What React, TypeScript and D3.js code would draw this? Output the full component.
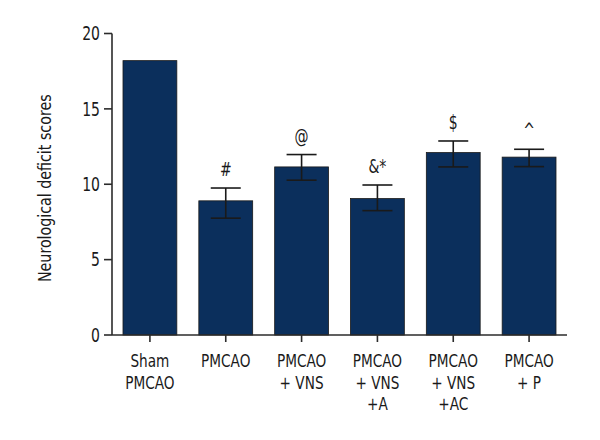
import React from "react";
import * as d3 from "d3";

const categories = [
  ["Sham", "PMCAO"],
  ["PMCAO"],
  ["PMCAO", "+ VNS"],
  ["PMCAO", "+ VNS", "+A"],
  ["PMCAO", "+ VNS", "+AC"],
  ["PMCAO", "+ P"],
];
const means = [18.2, 8.9, 11.15, 9.05, 12.1, 11.8];
const errUp = [0, 0.85, 0.82, 0.9, 0.77, 0.52];
const errDown = [0, 1.15, 0.88, 0.8, 0.95, 0.63];
const marks = ["", "#", "@", "&*", "$", "^"];
const yTicks = [0, 5, 10, 15, 20];

const W = 600, H = 440;
const left = 112, right = 567, top = 33.5, bottom = 335;
const font = "'DejaVu Sans Condensed', 'DejaVu Sans', sans-serif";
const axisColor = "#2b2b2b";
const barColor = "#0b2f5c";

function Txt(props: { x: number; y: number; size: number; anchor?: string; rotate?: number; sx?: number; children: React.ReactNode; dy?: string }) {
  const { x, y, size, anchor = "middle", rotate = 0, sx = 0.82, children, dy } = props;
  return (
    <text
      transform={`translate(${x},${y}) rotate(${rotate}) scale(${sx},1)`}
      textAnchor={anchor}
      fontSize={size}
      dy={dy}
      fill="#1a1a1a"
    >
      {children}
    </text>
  );
}

export default function App() {
  const x = d3.scaleBand<number>().domain(d3.range(categories.length)).range([left, right]).paddingInner(0.29).paddingOuter(0.145);
  const y = d3.scaleLinear().domain([0, 20]).range([bottom, top]);
  const bw = x.bandwidth();
  return (
    <svg width={W} height={H} style={{ position: "absolute", left: 0, top: 0, background: "#fff" }} fontFamily={font}>
      {means.map((m, i) => (
        <rect key={"b" + i} x={x(i)!} y={y(m)} width={bw} height={y(0) - y(m)} fill={barColor} stroke="#1a1a1a" strokeWidth={0.8} />
      ))}
      {means.map((m, i) =>
        errUp[i] > 0 ? (
          <g key={"e" + i} stroke="#1a1a1a" strokeWidth={1.6}>
            <line x1={x(i)! + bw / 2} x2={x(i)! + bw / 2} y1={y(m - errDown[i])} y2={y(m + errUp[i])} />
            <line x1={x(i)! + bw / 2 - 15} x2={x(i)! + bw / 2 + 15} y1={y(m + errUp[i])} y2={y(m + errUp[i])} />
            <line x1={x(i)! + bw / 2 - 15} x2={x(i)! + bw / 2 + 15} y1={y(m - errDown[i])} y2={y(m - errDown[i])} />
          </g>
        ) : null
      )}
      {means.map((m, i) =>
        marks[i] ? (
          <Txt key={"m" + i} x={x(i)! + bw / 2} y={y(m + errUp[i]) - 12} size={19}>
            {marks[i]}
          </Txt>
        ) : null
      )}
      <line x1={left} x2={left} y1={top} y2={bottom} stroke={axisColor} strokeWidth={1.6} />
      {yTicks.map((t) => (
        <g key={"yt" + t}>
          <line x1={left - 8} x2={left} y1={y(t)} y2={y(t)} stroke={axisColor} strokeWidth={1.6} />
          <Txt x={left - 12} y={y(t)} dy="0.36em" anchor="end" size={19}>
            {t}
          </Txt>
        </g>
      ))}
      <line x1={left} x2={right} y1={bottom} y2={bottom} stroke={axisColor} strokeWidth={1.6} />
      {categories.map((lines, i) => (
        <g key={"xt" + i}>
          <line x1={x(i)! + bw / 2} x2={x(i)! + bw / 2} y1={bottom} y2={bottom + 7} stroke={axisColor} strokeWidth={1.6} />
          {lines.map((ln, j) => (
            <Txt key={j} x={x(i)! + bw / 2} y={367 + j * 21.5} size={18.5}>
              {ln}
            </Txt>
          ))}
        </g>
      ))}
      <Txt x={51} y={(top + bottom) / 2 + 4} rotate={-90} size={18} sx={0.88}>
        Neurological deficit scores
      </Txt>
    </svg>
  );
}
